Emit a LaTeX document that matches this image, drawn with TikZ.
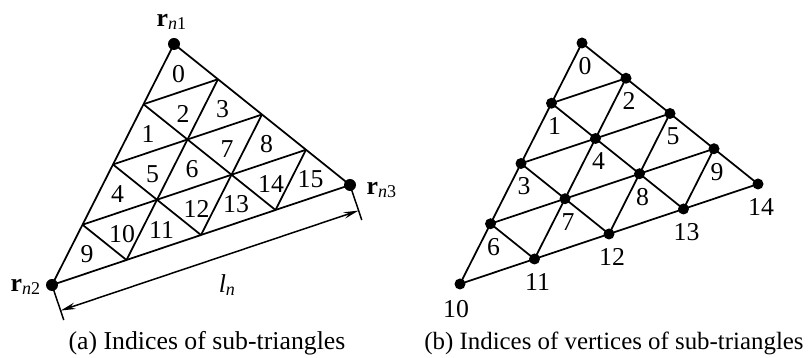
\documentclass[tikz,border=0pt]{standalone}
\usepackage{fontspec}
\setmainfont{Liberation Serif}
\usetikzlibrary{arrows.meta,calc}
\tikzset{
  mesh/.style={draw=black,line width=.7pt},
  extline/.style={draw=black,line width=.6pt},
  dimline/.style={{Stealth[length=6pt,width=2.6pt,inset=2pt]}-{Stealth[length=6pt,width=2.6pt,inset=2pt]},draw=black,line width=.6pt},
  trinum/.style={inner sep=0pt},
  vtxnum/.style={inner sep=0pt},
  cornerlabel/.style={inner sep=0pt},
  caption/.style={anchor=base,inner sep=0pt}
}
% vertex (i,j) = top corner + i*(left edge step) + j*(bottom edge step)
\newcommand{\MeshCoords}[2]{%
  \foreach \i in {0,...,4}{
    \foreach \j in {0,...,\i}{
      \coordinate (#1\i\j) at ($#2+\i*(-30.5,60.25)+\j*(74.5,-25)$);
    }
  }
}
\newcommand{\DrawMesh}[1]{%
  \foreach \k in {1,...,4}{\draw[mesh] (#1\k0)--(#1\k\k);}
  \foreach \k in {0,...,3}{\draw[mesh] (#1\k\k)--(#14\k);}
  \foreach \k in {0,...,3}{
    \pgfmathtruncatemacro\m{4-\k}
    \draw[mesh] (#1\k0)--(#14\m);
  }
}

\begin{document}
\begin{tikzpicture}[x=.4pt,y=-.4pt,font=\fontsize{10.3}{12}\selectfont]
  \useasboundingbox (0,0) rectangle (808,358);
  % (a) sub-triangles
  \MeshCoords{A}{(174,44)}
  \DrawMesh{A}
  \foreach \c in {00,40,44}{\fill (A\c) circle (2.4pt);}
  \foreach \i [evaluate=\i as \n using int(2*\i-2)] in {1,...,4}{
    \foreach \t in {0,...,\n}{
      \pgfmathtruncatemacro\p{mod(\t,2)}
      \pgfmathtruncatemacro\idx{(\i-1)^2+\t}
      \pgfmathsetmacro\ca{(3*\i-1-\p)/3}
      \pgfmathsetmacro\cb{(1.5*\t+1-0.5*\p)/3}
      \pgfmathsetmacro\dy{8*\p-2}
      \node[trinum] (t\idx) at ($(A00)+\ca*(-30.5,60.25)+\cb*(74.5,-25)+(0,\dy)$) {\idx};
    }
  }
  \node[cornerlabel] (rn1) at (172,22) {\textbf{r}\textsubscript{\textit{n}1}};
  \node[cornerlabel] (rn2) at (26,287) {\textbf{r}\textsubscript{\textit{n}2}};
  \node[cornerlabel] (rn3) at (382,190) {\textbf{r}\textsubscript{\textit{n}3}};
  % dimension l_n
  \coordinate (E2) at ($(A40)!14.8pt!-90:(A44)$);
  \coordinate (E3) at ($(A44)!14.8pt!90:(A40)$);
  \coordinate (D2) at ($(A40)!10.8pt!-90:(A44)$);
  \coordinate (D3) at ($(A44)!10.8pt!90:(A40)$);
  \draw[extline] (A40)--(E2);
  \draw[extline] (A44)--(E3);
  \draw[dimline] (D2)--(D3);
  \node[cornerlabel] (ln) at (227.5,285) {\textit{l}\textsubscript{\textit{n}}};
  \node[caption] (capa) at (207,350) {(a) Indices of sub-triangles};
  % (b) vertices of sub-triangles
  \MeshCoords{B}{(582,43)}
  \DrawMesh{B}
  \foreach \i in {0,...,4}{
    \foreach \j in {0,...,\i}{
      \pgfmathtruncatemacro\idx{\i*(\i+1)/2+\j}
      \pgfmathsetmacro\dx{\idx==10 ? -4 : 3}
      \pgfmathsetmacro\dy{\idx==10 ? 25 : 23}
      \fill (B\i\j) circle (2.2pt);
      \node[vtxnum] (v\idx) at ($(B\i\j)+(\dx,\dy)$) {\idx};
    }
  }
  \node[caption,font=\fontsize{9.95}{12}\selectfont] (capb) at (614,350) {(b) Indices of vertices of sub-triangles};
\end{tikzpicture}
\end{document}
